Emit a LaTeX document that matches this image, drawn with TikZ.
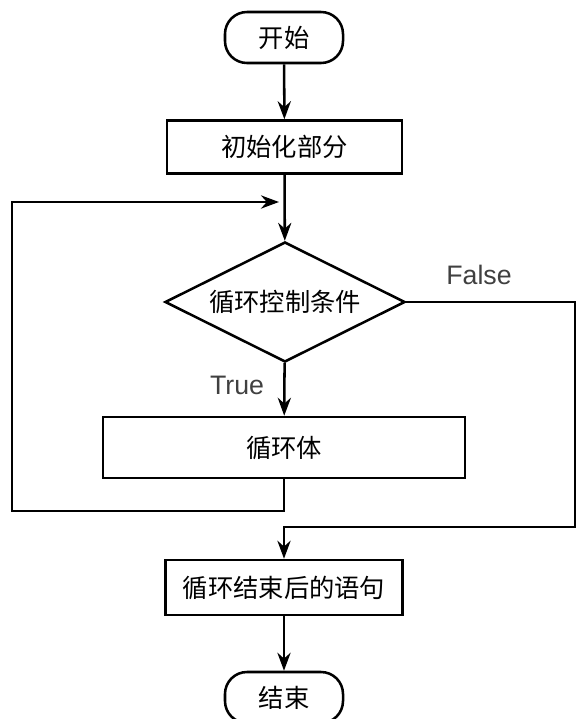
\documentclass[tikz,border=0pt]{standalone}
\usepackage{fontspec}
\newfontfamily\cjk{Noto Sans CJK SC}
\newfontfamily\lab{Liberation Sans}
\usetikzlibrary{shapes.geometric,arrows.meta}

\begin{document}
\begin{tikzpicture}[x=0.025cm,y=-0.025cm]
			\tikzstyle{every node}+=[inner sep=0pt,text=black!75]
			\tikzstyle{line}=[black,line width=1.8pt]
			\tikzstyle{arr}=[line,-{Stealth[length=0.45cm,width=0.33cm]}]
			\tikzstyle{term}=[draw,line,rounded corners=0.55cm,minimum width=2.95cm,minimum height=1.275cm,font=\cjk\fontsize{18}{20}\selectfont]
			\tikzstyle{box}=[draw,line,font=\cjk\fontsize{18}{20}\selectfont]
			\tikzstyle{tf}=[font=\lab\fontsize{19}{22}\selectfont]
			\useasboundingbox (0,0) rectangle (577,719);
			\node [term] (start) at (284,37.5) {开始};
			\node [box,minimum width=5.875cm,minimum height=1.325cm] (init) at (284.5,147) {初始化部分};
			\node [box,diamond,aspect=2,minimum width=6cm,minimum height=3cm] (cond) at (285,302) {循环控制条件};
			\node [box,minimum width=9.05cm,minimum height=1.525cm] (body) at (284,447.5) {循环体};
			\node [box,minimum width=5.925cm,minimum height=1.375cm] (after) at (284,587.5) {循环结束后的语句};
			\node [term] (stop) at (284,697.5) {结束};
			\node [tf] (ltrue) at (237,385) {True};
			\node [tf] (lfalse) at (479,275) {False};
			\coordinate (loopL) at (12,511);
			\coordinate (back) at (279,202);
			\coordinate (exitR) at (575,527);
			\draw [arr] (start) -- (init);
			\draw [arr] (init) -- (cond);
			\draw [arr] (cond) -- (body);
			\draw [arr] (body.south) |- (loopL) |- (back);
			\draw [arr] (cond.east) -| (exitR) -| (after.north);
			\draw [arr] (after) -- (stop);
\end{tikzpicture}
\end{document}
